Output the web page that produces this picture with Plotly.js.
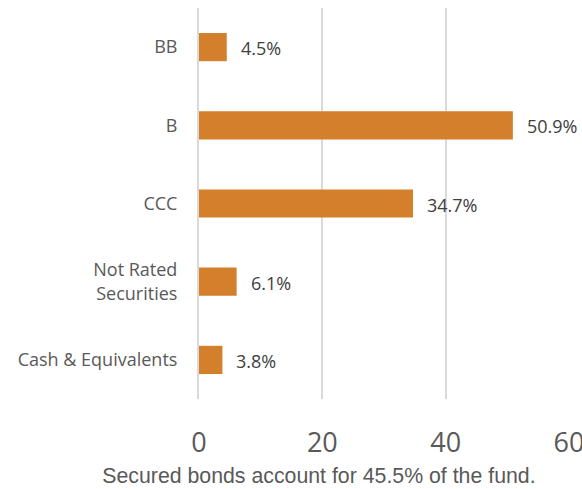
<!DOCTYPE html>
<html>
<head>
<meta charset="utf-8">
<script src="https://cdn.plot.ly/plotly-3.0.1.min.js"></script>
<style>html,body{margin:0;padding:0;background:#fff}#chart{width:582px;height:489px}</style>
</head>
<body>
<div id="chart"></div>
<script>
var categories = ["BB", "B", "CCC", "Not Rated<br>Securities", "Cash & Equivalents"];
var values = [4.5, 50.9, 34.7, 6.1, 3.8];
var valueLabels = ["4.5%", "50.9%", "34.7%", "6.1%", "3.8%"];
var xTicks = [0, 20, 40, 60];

var trace = {
  type: "bar",
  orientation: "h",
  y: categories,
  x: values,
  width: 0.36,
  marker: {color: "#D37F2B"},
  hoverinfo: "none"
};

var annotations = values.map(function (v, i) {
  return {
    x: v, y: categories[i], xref: "x", yref: "y",
    text: valueLabels[i], showarrow: false,
    xanchor: "left", yanchor: "middle", xshift: 12, yshift: -1,
    font: {family: "Open Sans", size: 18, color: "#404040"}
  };
});

var layout = {
  width: 582, height: 489,
  margin: {l: 199, r: 13, t: 8, b: 90},
  paper_bgcolor: "#ffffff", plot_bgcolor: "#ffffff",
  showlegend: false,
  xaxis: {
    range: [0, 60], tickvals: xTicks, ticktext: xTicks.map(String),
    showgrid: true, gridcolor: "#D9D9D9", gridwidth: 2,
    zeroline: false, showline: false,
    ticks: "outside", ticklen: 20, tickcolor: "rgba(0,0,0,0)",
    ticklabeloverflow: "allow",
    tickfont: {family: "Open Sans", size: 27, color: "#595959"},
    fixedrange: true
  },
  yaxis: {
    autorange: "reversed",
    showgrid: false, zeroline: false,
    showline: true, linecolor: "#D9D9D9", linewidth: 2,
    ticks: "outside", ticklen: 16, tickcolor: "rgba(0,0,0,0)",
    tickfont: {family: "Open Sans", size: 18, color: "#595959"},
    fixedrange: true
  },
  title: {
    text: "Secured bonds account for 45.5% of the fund.",
    xref: "container", yref: "container",
    x: 0.548, y: 0.028, xanchor: "center", yanchor: "middle",
    font: {family: "Liberation Sans", size: 21.3, color: "#595959"}
  },
  annotations: annotations
};

Plotly.newPlot("chart", [trace], layout, {displayModeBar: false, staticPlot: true});
</script>
</body>
</html>
